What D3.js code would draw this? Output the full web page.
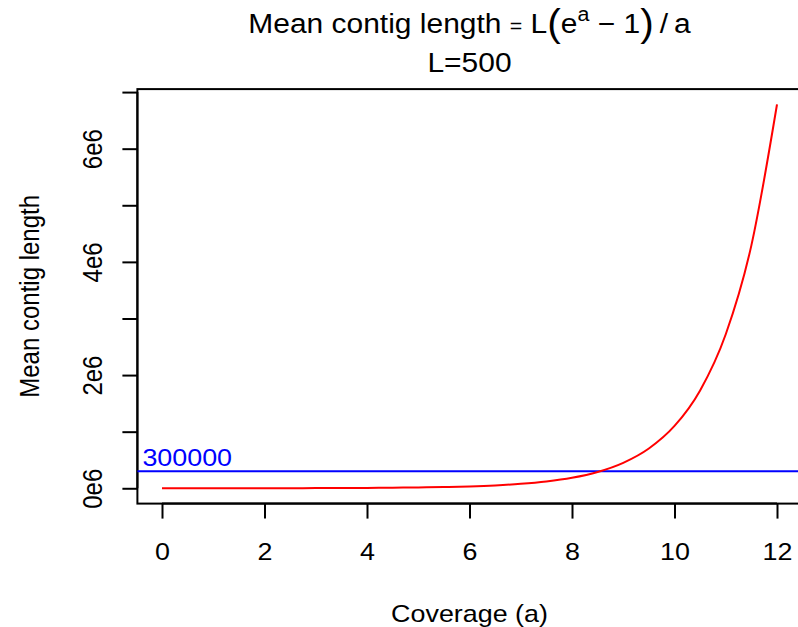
<!DOCTYPE html>
<html>
<head>
<meta charset="utf-8">
<script src="https://cdn.jsdelivr.net/npm/d3@7"></script>
<style>
  html, body { margin: 0; padding: 0; background: #fff; }
  svg text { font-family: "Liberation Sans", Arial, Helvetica, sans-serif; fill: #000; }
</style>
</head>
<body>
<svg id="chart" width="798" height="627"></svg>
<script>
// ---- data ----
const coverage = [0, 0.5, 1, 1.5, 2, 2.5, 3, 3.5, 4, 4.5, 5, 5.5, 6, 6.5, 7, 7.5, 8, 8.5, 9, 9.5, 10, 10.5, 11, 11.5, 12];
const meanLength = [500, 649, 859, 1161, 1597, 2236, 3181, 4588, 6700, 9891, 14741, 22154, 33536, 51088, 78259, 120470, 186248, 289045, 450116, 703092, 1101273, 1729262, 2721506, 4291946, 6781408];
const xTicks = [0, 2, 4, 6, 8, 10, 12];
const yTicks = [0, 1e6, 2e6, 3e6, 4e6, 5e6, 6e6, 7e6];
const yTickLabels = ["0e6", "", "2e6", "", "4e6", "", "6e6", ""];
const threshold = 300000;
const thresholdLabel = "300000";
const titleLine2 = "L=500";
const xLabel = "Coverage (a)";
const yLabel = "Mean contig length";

// ---- layout ----
const W = 798, H = 627;
const plot = { left: 137.4, right: 801.6, top: 89.1, bottom: 503.6 };
const svg = d3.select("#chart");

const xExt = d3.extent(coverage), yExt = d3.extent(meanLength);
const xPad = (xExt[1] - xExt[0]) * 0.04, yPad = (yExt[1] - yExt[0]) * 0.04;
const x = d3.scaleLinear().domain([xExt[0] - xPad, xExt[1] + xPad]).range([plot.left, plot.right]);
const y = d3.scaleLinear().domain([yExt[0] - yPad, yExt[1] + yPad]).range([plot.bottom, plot.top]);

const AX_FS = 24, TITLE_FS = 28, LW = 2;
const SX = 1.12, SX_T = 1.07;   // horizontal stretch of the glyphs in the reference

// box
svg.append("rect")
  .attr("x", plot.left).attr("y", plot.top)
  .attr("width", plot.right - plot.left).attr("height", plot.bottom - plot.top)
  .attr("fill", "none").attr("stroke", "#000").attr("stroke-width", LW);

// x axis
const xAxis = d3.axisBottom(x).tickValues(xTicks).tickSize(15).tickPadding(25).tickFormat(d3.format("d"));
const gx = svg.append("g").attr("transform", `translate(0,${plot.bottom})`).call(xAxis);
gx.select(".domain").attr("d", `M${x(xTicks[0])},0H${x(xTicks[xTicks.length-1])}`).attr("stroke-width", LW);
gx.selectAll(".tick line").attr("stroke-width", LW);
gx.selectAll(".tick text").attr("font-size", AX_FS).attr("dy", null).attr("y", 0)
  .attr("transform", `translate(0,56.5) scale(${SX},1)`)
  .style("font-family", '"Liberation Sans", Arial, Helvetica, sans-serif');

// y axis
const yAxis = d3.axisLeft(y).tickValues(yTicks).tickSize(15).tickFormat((d, i) => yTickLabels[i]);
const gy = svg.append("g").attr("transform", `translate(${plot.left},0)`).call(yAxis);
gy.select(".domain").attr("d", `M0,${y(yTicks[0])}V${y(yTicks[yTicks.length-1])}`).attr("stroke-width", LW);
gy.selectAll(".tick line").attr("stroke-width", LW);
gy.selectAll(".tick text")
  .attr("font-size", AX_FS).attr("x", null).attr("dy", null)
  .attr("text-anchor", "middle")
  .attr("transform", `translate(-35.7,0) scale(${SX},1) rotate(-90)`)
  .style("font-family", '"Liberation Sans", Arial, Helvetica, sans-serif');
svg.selectAll(".domain, .tick line").attr("stroke", "#000");

// threshold line
svg.append("line")
  .attr("x1", plot.left).attr("x2", W)
  .attr("y1", y(threshold)).attr("y2", y(threshold))
  .attr("stroke", "#0000ff").attr("stroke-width", LW);
svg.append("text")
  .attr("transform", `translate(${plot.left + 5},${y(threshold) - 5.5}) scale(${SX},1)`)
  .attr("font-size", AX_FS).style("fill", "#0000ff")
  .text(thresholdLabel);

// curve
const line = d3.line().x((d, i) => x(coverage[i])).y(d => y(d)).curve(d3.curveMonotoneX);
svg.append("path").datum(meanLength)
  .attr("d", line).attr("fill", "none").attr("stroke", "#ff0000").attr("stroke-width", LW);

// titles
const cx = (plot.left + plot.right) / 2;
const t1 = svg.append("text").attr("transform", `translate(${cx},33.3) scale(${SX_T},1)`)
  .attr("text-anchor", "middle").attr("font-size", TITLE_FS);
t1.append("tspan").text("Mean contig length ");
t1.append("tspan").attr("font-size", 20).text("=");
t1.append("tspan").text(" L");
t1.append("tspan").attr("font-size", 38).attr("dy", 3).text("(");
t1.append("tspan").attr("dy", -3).text("e");
t1.append("tspan").attr("font-size", 20).attr("dy", -12).text("a");
t1.append("tspan").attr("dy", 12).text(" \u2212 1");
t1.append("tspan").attr("font-size", 38).attr("dy", 3).text(")");
t1.append("tspan").attr("dy", -3).text("\u2009/\u2009a");

svg.append("text").attr("transform", `translate(${cx},72) scale(${SX_T},1)`)
  .attr("text-anchor", "middle").attr("font-size", TITLE_FS).text(titleLine2);

svg.append("text").attr("transform", `translate(${cx},622) scale(${SX},1)`)
  .attr("text-anchor", "middle").attr("font-size", AX_FS).text(xLabel);
svg.append("text").attr("transform", `translate(39.3,${(plot.top + plot.bottom) / 2}) scale(${SX},1) rotate(-90)`)
  .attr("text-anchor", "middle").attr("font-size", AX_FS).text(yLabel);
</script>
</body>
</html>
